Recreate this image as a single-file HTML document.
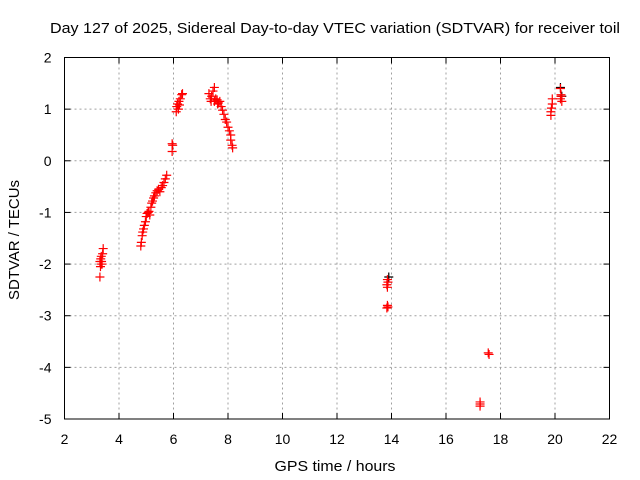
<!DOCTYPE html>
<html><head><meta charset="utf-8"><style>
body{margin:0;background:#fff;}
svg{display:block;font-family:"Liberation Sans",sans-serif;}
</style></head><body>
<svg id="chart" width="640" height="480">
<rect width="640" height="480" fill="#fff"/>
<text x="50" y="33" font-size="15" textLength="570" lengthAdjust="spacingAndGlyphs">Day 127 of 2025, Sidereal Day-to-day VTEC variation (SDTVAR) for receiver toil</text>
<g id="grid"></g>
<g id="ticks" font-size="14"></g>
<g id="marks"></g>
<rect x="64.5" y="57.5" width="545" height="361.5" fill="none" stroke="#000" stroke-width="1"/>
<text x="335" y="471" text-anchor="middle" font-size="15" textLength="121" lengthAdjust="spacingAndGlyphs">GPS time / hours</text>
<text transform="translate(19,240) rotate(-90)" text-anchor="middle" font-size="15" textLength="120" lengthAdjust="spacingAndGlyphs">SDTVAR / TECUs</text>
</svg>
<script>
const xTicks=[2,4,6,8,10,12,14,16,18,20,22];
const yTicks=[2,1,0,-1,-2,-3,-4,-5];
const redX=[3.3,3.32,3.35,3.3,3.33,3.35,3.4,3.42,3.38,3.36,
4.8,4.82,4.85,4.87,4.9,4.93,4.97,5.0,5.03,5.07,5.1,5.13,5.17,5.2,5.23,5.27,5.3,5.35,5.4,5.45,5.5,5.55,5.6,5.65,5.7,5.75,
5.95,5.97,5.95,
6.1,6.12,6.15,6.18,6.2,6.25,6.3,6.33,6.22,
7.3,7.35,7.4,7.45,7.5,7.5,7.55,7.6,7.65,7.7,7.75,7.8,7.85,7.9,7.95,8.0,8.05,8.1,8.1,8.15,8.17,7.38,7.62,
13.85,13.87,13.83,13.85,13.85,13.87,13.83,
17.25,17.25,17.25,17.55,17.58,
19.85,19.85,19.87,19.9,19.9,20.2,20.22,20.2,20.25,20.22];
const redY=[-2.25,-2.05,-2.0,-1.95,-1.9,-1.85,-1.8,-1.7,-2.0,-1.95,
-1.65,-1.58,-1.45,-1.38,-1.32,-1.25,-1.18,-1.08,-1.02,-1.0,-0.98,-1.05,-0.9,-0.82,-0.78,-0.72,-0.68,-0.62,-0.58,-0.55,-0.6,-0.52,-0.48,-0.42,-0.35,-0.28,
0.33,0.3,0.18,
0.95,1.05,1.1,1.0,1.15,1.2,1.28,1.3,1.08,
1.3,1.2,1.25,1.35,1.42,1.15,1.2,1.18,1.12,1.15,1.05,0.98,0.9,0.8,0.75,0.65,0.58,0.5,0.4,0.3,0.25,1.15,1.1,
-2.3,-2.35,-2.4,-2.45,-2.8,-2.83,-2.85,
-4.67,-4.71,-4.75,-3.72,-3.75,
0.88,0.95,1.02,1.1,1.2,1.4,1.28,1.2,1.15,1.25];
const blackX=[13.9,20.2,20.25];
const blackY=[-2.25,1.42,1.25];
const X0=64.5,X1=609.5,Y0=419,Y1=57.5;
const xs=v=>X0+(v-2)/20*(X1-X0);
const ys=v=>Y0-(v+5)/7*(Y0-Y1);
const NS="http://www.w3.org/2000/svg";
function mk(t,a,p){const e=document.createElementNS(NS,t);for(const k in a)e.setAttribute(k,a[k]);p.appendChild(e);return e;}
const grid=document.getElementById('grid'),ticks=document.getElementById('ticks'),marks=document.getElementById('marks');
xTicks.forEach(v=>{const x=xs(v);
 if(v>2&&v<22){const g=mk('line',{x1:x,x2:x,y1:Y1,y2:Y0,stroke:'#a0a0a0','stroke-dasharray':'2,3'},grid);
 
 }
 mk('line',{x1:x,x2:x,y1:Y0,y2:Y0-6,stroke:'#000'},ticks);mk('line',{x1:x,x2:x,y1:Y1,y2:Y1+6,stroke:'#000'},ticks);
 const t=mk('text',{x:x,y:Y0+25,'text-anchor':'middle'},ticks);t.textContent=v;
 
 });
yTicks.forEach(v=>{const y=ys(v);
 if(v>-5&&v<2){const g=mk('line',{x1:X0,x2:X1,y1:y,y2:y,stroke:'#a0a0a0','stroke-dasharray':'2,3'},grid);
 
 }
 mk('line',{x1:X0,x2:X0+6,y1:y,y2:y,stroke:'#000'},ticks);mk('line',{x1:X1,x2:X1-6,y1:y,y2:y,stroke:'#000'},ticks);
 const t=mk('text',{x:X0-13,y:y+5,'text-anchor':'end'},ticks);t.textContent=v;
 
 });
function plus(x,y,c,name){const p=mk('path',{d:`M${x-4.5},${y}h9M${x},${y-4.5}v9`,stroke:c,'stroke-width':1.2,fill:'none'},marks);
 
 }
blackX.forEach((v,i)=>plus(xs(v),ys(blackY[i]),'#000','black-point'));
redX.forEach((v,i)=>plus(xs(v),ys(redY[i]),'#f00','sdtvar-point'));
</script>
</body></html>
